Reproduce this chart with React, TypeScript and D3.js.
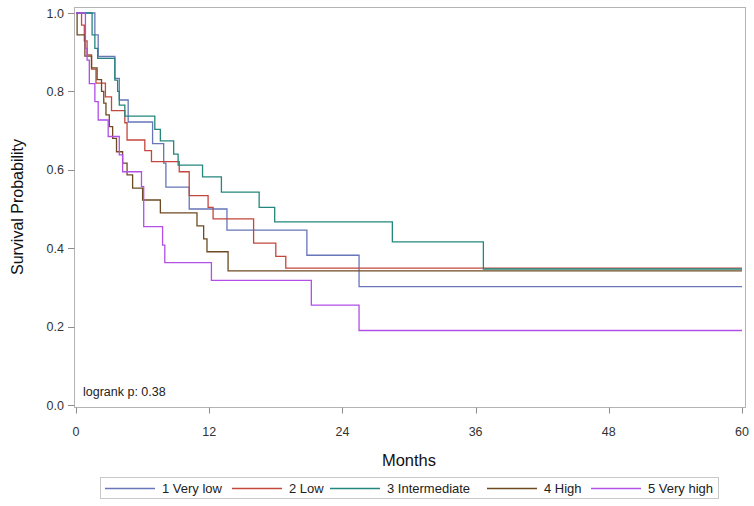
import React from "react";
import * as d3 from "d3";

const groupNames = ["1 Very low", "2 Low", "3 Intermediate", "4 High", "5 Very high"];
const groupColors = ["#6676b8", "#c4473d", "#23877c", "#6e4a22", "#b14fe6"];

// event times (months) and survival after each step
const timesVeryLow = [1.7, 2.0, 3.5, 3.9, 4.7, 6.9, 7.9, 8.1, 10.2, 13.6, 20.8, 25.5];
const survVeryLow = [0.944, 0.889, 0.833, 0.778, 0.722, 0.667, 0.617, 0.556, 0.5, 0.446, 0.382, 0.302];

const timesLow = [0.5, 0.75, 1.0, 1.4, 1.8, 2.65, 3.2, 4.4, 4.6, 6.2, 6.8, 9.3, 10.2, 11.9, 12.35, 16.0, 18.0, 18.9];
const survLow = [0.969, 0.929, 0.893, 0.857, 0.821, 0.786, 0.751, 0.72, 0.676, 0.649, 0.621, 0.595, 0.534, 0.504, 0.475, 0.413, 0.379, 0.349];

const timesInter = [1.45, 1.7, 1.95, 3.5, 3.75, 3.9, 4.4, 7.1, 7.6, 8.8, 9.2, 11.4, 13.1, 16.5, 17.9, 28.5, 36.7];
const survInter = [0.944, 0.91, 0.884, 0.829, 0.8, 0.765, 0.737, 0.703, 0.674, 0.64, 0.612, 0.582, 0.543, 0.504, 0.467, 0.416, 0.347];

const timesHigh = [0.1, 0.8, 1.4, 1.9, 2.3, 2.5, 2.7, 3.0, 3.3, 3.65, 4.2, 4.6, 5.1, 6.0, 7.6, 10.9, 11.5, 11.8, 13.7];
const survHigh = [0.944, 0.89, 0.86, 0.83, 0.8, 0.77, 0.74, 0.71, 0.68, 0.646, 0.617, 0.587, 0.553, 0.523, 0.49, 0.457, 0.424, 0.391, 0.342];

const timesVeryHigh = [0.85, 1.0, 1.2, 1.7, 2.0, 2.9, 3.9, 4.2, 5.9, 6.1, 7.8, 8.0, 12.2, 21.2, 25.5];
const survVeryHigh = [0.91, 0.88, 0.82, 0.774, 0.727, 0.685, 0.638, 0.595, 0.557, 0.455, 0.408, 0.363, 0.318, 0.255, 0.19];

const seriesTimes = [timesVeryLow, timesLow, timesInter, timesHigh, timesVeryHigh];
const seriesSurv = [survVeryLow, survLow, survInter, survHigh, survVeryHigh];

const xTicks = [0, 12, 24, 36, 48, 60];
const yTicks = [0, 0.2, 0.4, 0.6, 0.8, 1.0];
const maxMonths = 60;
const logrankText = "logrank p: 0.38";

const W = 754;
const H = 506;
const frameLeft = 74.5;
const frameRight = 745.5;
const frameTop = 7.5;
const frameBottom = 407.5;

const x = d3.scaleLinear().domain([0, 60]).range([76, 742]);
const y = d3.scaleLinear().domain([0, 1]).range([405, 13]);

const font = "Arial, 'Liberation Sans', Helvetica, sans-serif";

function buildPoints(times: number[], surv: number[]): [number, number][] {
  const pts: [number, number][] = [[0, 1]];
  times.forEach((t, i) => pts.push([t, surv[i]]));
  pts.push([maxMonths, surv[surv.length - 1]]);
  return pts;
}

const line = d3
  .line<[number, number]>()
  .x((d) => x(d[0]))
  .y((d) => y(d[1]))
  .curve(d3.curveStepAfter);

const legendItems = [
  { line: 105, text: 162 },
  { line: 232, text: 289 },
  { line: 330, text: 387 },
  { line: 487, text: 544 },
  { line: 591, text: 648 },
];

export default function App() {
  return (
    <svg width={W} height={H} style={{ position: "absolute", left: 0, top: 0, background: "#fff" }}>
      <rect x={0} y={0} width={W} height={H} fill="#fff" />
      {/* frame */}
      <rect
        x={frameLeft}
        y={frameTop}
        width={frameRight - frameLeft}
        height={frameBottom - frameTop}
        fill="none"
        stroke="#b4b4b4"
        strokeWidth={1}
      />
      {/* y ticks */}
      {yTicks.map((t) => (
        <g key={"y" + t}>
          <line x1={68} x2={frameLeft} y1={Math.round(y(t)) + 0.5} y2={Math.round(y(t)) + 0.5} stroke="#8c8c8c" />
          <text
            x={64}
            y={y(t) + 4.5}
            textAnchor="end"
            fontFamily={font}
            fontSize={12.5}
            fill="#333"
          >
            {t.toFixed(1)}
          </text>
        </g>
      ))}
      {/* x ticks */}
      {xTicks.map((t) => (
        <g key={"x" + t}>
          <line x1={Math.round(x(t)) + 0.5} x2={Math.round(x(t)) + 0.5} y1={frameBottom} y2={413.5} stroke="#8c8c8c" />
          <text x={x(t)} y={435.5} textAnchor="middle" fontFamily={font} fontSize={12.5} fill="#333">
            {t}
          </text>
        </g>
      ))}
      {/* axis titles */}
      <text
        transform={`translate(23,${207}) rotate(-90)`}
        textAnchor="middle"
        fontFamily={font}
        fontSize={16}
        fill="#111"
      >
        Survival Probability
      </text>
      <text x={409} y={466} textAnchor="middle" fontFamily={font} fontSize={16.5} fill="#111">
        Months
      </text>
      {/* curves */}
      {seriesTimes.map((times, i) => (
        <path
          key={groupNames[i]}
          d={line(buildPoints(times, seriesSurv[i])) || ""}
          fill="none"
          stroke={groupColors[i]}
          strokeWidth={1.3}
        />
      ))}
      {/* logrank */}
      <text x={83} y={396} fontFamily={font} fontSize={12.5} fill="#222">
        {logrankText}
      </text>
      {/* legend */}
      <rect x={100.5} y={477.5} width={618} height={21} fill="none" stroke="#c8c8c8" />
      {groupNames.map((g, i) => (
        <g key={"lg" + g}>
          <line
            x1={legendItems[i].line}
            x2={legendItems[i].line + 50}
            y1={488.5}
            y2={488.5}
            stroke={groupColors[i]}
            strokeWidth={1.3}
          />
          <text x={legendItems[i].text} y={493} fontFamily={font} fontSize={13} fill="#222">
            {g}
          </text>
        </g>
      ))}
    </svg>
  );
}
